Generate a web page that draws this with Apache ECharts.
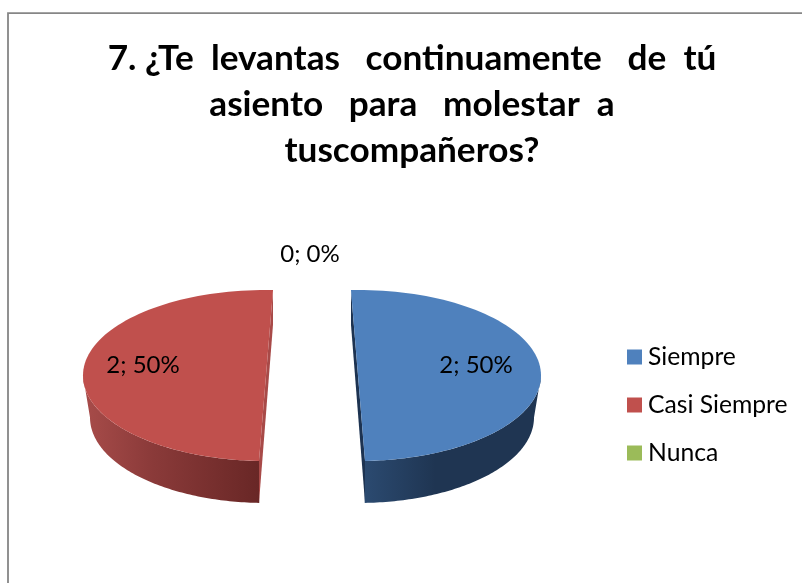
<!DOCTYPE html>
<html>
<head>
<meta charset="utf-8">
<style>
  html, body { margin: 0; padding: 0; background: #fff; }
  #main { width: 802px; height: 583px; }
</style>
</head>
<body>
<div id="main"></div>
<script src="https://cdn.jsdelivr.net/npm/echarts@6/dist/echarts.min.js"></script>
<script>
const titleLines = [
  '7. ¿Te  levantas   continuamente   de  tú',
  'asiento   para   molestar  a',
  'tuscompañeros?'
]
const categories = ['Siempre', 'Casi Siempre', 'Nunca']
const values = [2, 2, 0]
const percents = [50, 50, 0]

// office palette: top, cut face, wall gradient
const topColors = ['#4f81bd', '#c0504d', '#9bbb59']
const cutColors = ['#1d3351', '#a84a48', '#6f8a3e']
const wallColors = [
  ['#2b4a70', '#1f3552', '#1f3552'],
  ['#a84c4a', '#8a3a39', '#692726'],
  ['#6f8a3e', '#6f8a3e', '#6f8a3e']
]

const firstAngle = -2.2
const rx = 183
const rxLow = 176
const ry = 85.5
const depth = 42
const cy = 375.5
// centre of each exploded slice, perspective lean of its cut, where its label sits
const centers = [358, 266, 312]
const lean = [0, 4.4, 0]
const labelPos = [[476, 365], [143, 365], [310, 254]]

const total = values.reduce((a, b) => a + b, 0)

function rim(cx, deg, dy, r) {
  const t = deg * Math.PI / 180
  return [cx + r * Math.sin(t), cy - ry * Math.cos(t) + dy]
}

function arc(cx, from, to, dy, r) {
  const pts = []
  const n = 90
  for (let i = 0; i <= n; i++) {
    pts.push(rim(cx, from + (to - from) * i / n, dy, r))
  }
  return pts
}

function renderSlice(idx) {
  return function (params, api) {
    const value = api.value(0)
    let before = 0
    for (let i = 0; i < idx; i++) before += values[i]
    const start = firstAngle + lean[idx] + before / total * 360
    const end = start + value / total * 360
    const cx = centers[idx]
    const children = []

    if (value > 0) {
      // wall: only the part of the rim that faces the viewer
      const from = Math.max(start, 90)
      const to = Math.min(end, 270)
      const a = arc(cx, from, to, 0, rx)
      const wallEdge = arc(cx, from, to, depth, rxLow).reverse()
      const left = Math.min(...a.map(p => p[0]))
      const right = Math.max(...a.map(p => p[0]))
      children.push({
        type: 'polygon',
        shape: { points: a.concat(wallEdge) },
        style: {
          fill: new echarts.graphic.LinearGradient(left, 0, right, 0, [
            { offset: 0, color: wallColors[idx][0] },
            { offset: 0.4, color: wallColors[idx][1] },
            { offset: 1, color: wallColors[idx][2] }
          ], true)
        }
      })
      // cut face along the diameter
      const p1 = rim(cx, idx === 0 ? start : end, 0, rx)
      const p2 = rim(cx, idx === 0 ? end : start, 0, rx)
      children.push({
        type: 'polygon',
        shape: { points: [p1, p2, [p2[0], p2[1] + depth], [p1[0], p1[1] + depth * 0.82]] },
        style: { fill: cutColors[idx] }
      })
      // top face
      children.push({
        type: 'polygon',
        shape: { points: arc(cx, start, end, 0, rx) },
        style: { fill: topColors[idx] }
      })
    }

    children.push({
      type: 'text',
      style: {
        text: value + '; ' + percents[idx] + '%',
        x: labelPos[idx][0],
        y: labelPos[idx][1],
        align: 'center',
        verticalAlign: 'middle',
        font: '24px Lato',
        fill: '#000'
      }
    })
    return { type: 'group', children }
  }
}

const chart = echarts.init(document.getElementById('main'))
chart.setOption({
  animation: false,
  backgroundColor: '#fff',
  title: {
    text: titleLines.join('\n'),
    left: 407,
    top: 31,
    textAlign: 'center',
    textStyle: {
      fontFamily: 'Lato',
      fontWeight: 'bold',
      fontSize: 35.2,
      lineHeight: 46,
      color: '#000'
    }
  },
  legend: {
    orient: 'vertical',
    left: 627,
    top: 344,
    padding: 0,
    icon: 'rect',
    itemWidth: 15,
    itemHeight: 15,
    itemGap: 22,
    selectedMode: false,
    data: categories,
    textStyle: { fontFamily: 'Lato', fontSize: 24.7, color: '#000', lineHeight: 26, padding: [0, 0, 0, 1] }
  },
  graphic: [{
    type: 'polyline',
    silent: true,
    shape: { points: [[8, 583], [8, 13.2], [802, 13.2]] },
    style: { stroke: '#868686', fill: null, lineWidth: 1.8 }
  }],
  series: categories.map((name, idx) => ({
    name,
    type: 'custom',
    coordinateSystem: 'none',
    silent: true,
    itemStyle: { color: topColors[idx] },
    renderItem: renderSlice(idx),
    data: [[values[idx]]]
  }))
})
</script>
</body>
</html>
